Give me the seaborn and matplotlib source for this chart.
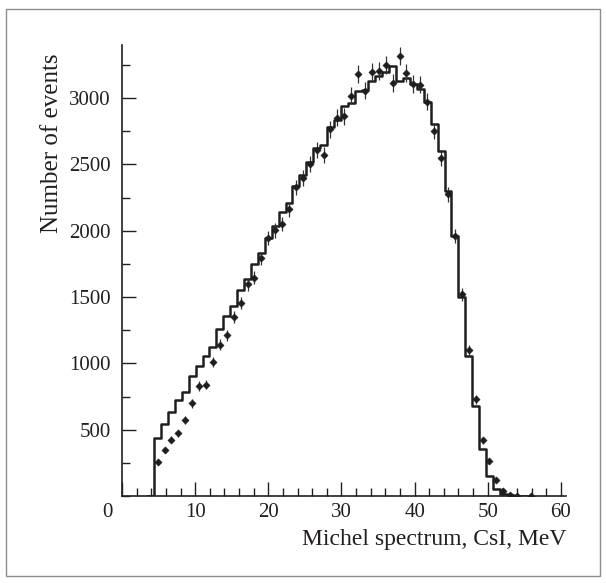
import numpy as np
import pandas as pd
import matplotlib
matplotlib.use("Agg")
import matplotlib.pyplot as plt
import matplotlib.transforms as mtransforms
from matplotlib.patches import Rectangle
from matplotlib.ticker import MultipleLocator
import seaborn as sns

# ---- data ----
bin_start = 4.4      # MeV, left edge of first bin
bin_width = 0.945    # MeV

mc_counts = [439, 545, 633, 723, 784, 904, 980, 1055, 1123, 1261,
             1356, 1432, 1550, 1633, 1746, 1834, 1946, 2035, 2143, 2211,
             2336, 2420, 2515, 2625, 2645, 2781, 2831, 2939, 2964, 3050,
             3060, 3130, 3165, 3197, 3240, 3132, 3150, 3105, 3065, 2972,
             2801, 2600, 2298, 1959, 1500, 1055, 678, 352, 151, 50,
             17, 5, 3]

data_counts = [259, 344, 424, 472, 575, 698, 829, 839, 1010, 1140,
               1211, 1349, 1454, 1595, 1645, 1791, 1942, 2002, 2052, 2160,
               2328, 2399, 2505, 2610, 2570, 2763, 2851, 2864, 3018, 3180,
               3056, 3195, 3203, 3248, 3115, 3316, 3190, 3107, 3102, 2972,
               2751, 2545, 2273, 1959, 1520, 1098, 729, 420, 264, 118,
               38, 8, 3, np.nan, 2]

x_ticks = [0, 10, 20, 30, 40, 50, 60]
y_ticks = [500, 1000, 1500, 2000, 2500, 3000]
x_label = "Michel spectrum, CsI, MeV"
y_label = "Number of events"

# ---- build tables ----
n_mc = len(mc_counts)
# add one empty bin on each side so the outline rises from / falls to zero
edges = bin_start + bin_width * np.arange(-1, n_mc + 2)
centers_mc = 0.5 * (edges[:-1] + edges[1:])
mc_df = pd.DataFrame({"E": centers_mc,
                      "w": [0] + mc_counts + [0]})

n_d = len(data_counts)
data_df = pd.DataFrame({
    "E": bin_start + bin_width * (np.arange(n_d) + 0.5),
    "N": data_counts,
})
data_df["err"] = 1.2 * np.sqrt(data_df["N"])
data_df = data_df.dropna()

# ---- style ----
sns.set_style("ticks")
plt.rcParams["font.family"] = ["Liberation Serif", "DejaVu Serif"]
ink = "#231f20"
plt.rcParams["text.color"] = ink
plt.rcParams["axes.labelcolor"] = ink
plt.rcParams["xtick.color"] = ink
plt.rcParams["ytick.color"] = ink

fig = plt.figure(figsize=(6.06, 5.83), dpi=100)
ax = fig.add_axes([122 / 606, 1 - 496 / 583, 444 / 606, 451 / 583])

sns.histplot(data=mc_df, x="E", weights="w", bins=[float(e) for e in edges],
             element="step", fill=False, color="#1e1e1e", linewidth=1.8, ax=ax)

ax.errorbar(data_df["E"], data_df["N"], yerr=data_df["err"], xerr=0.22,
            fmt="none", ecolor="#333333", elinewidth=0.9, capsize=0, zorder=3)
sns.scatterplot(data=data_df, x="E", y="N", marker="D", s=14,
                color="#1e1e1e", edgecolor="#1e1e1e", linewidth=0.3,
                ax=ax, zorder=4)

ax.set_xlim(0, 60.7)
ax.set_ylim(0, 3400)
ax.set_xticks(x_ticks)
ax.set_xticklabels([str(v) for v in x_ticks])
ax.set_yticks(y_ticks)
ax.set_yticklabels([str(v) for v in y_ticks])
ax.xaxis.set_minor_locator(MultipleLocator(2))
ax.yaxis.set_minor_locator(MultipleLocator(250))
ax.tick_params(axis="both", which="major", direction="in", length=10,
               width=1.0, labelsize=15, pad=5)
ax.tick_params(axis="both", which="minor", direction="in", length=6,
               width=1.0)
ax.tick_params(axis="y", pad=8)

# shift the "0" label to the corner
lbl0 = ax.get_xticklabels()[0]
lbl0.set_transform(lbl0.get_transform() +
                   mtransforms.ScaledTranslation(-15 / 100, 0, fig.dpi_scale_trans))

for s in ["top", "right"]:
    ax.spines[s].set_visible(False)
for s in ["left", "bottom"]:
    ax.spines[s].set_linewidth(1.2)
    ax.spines[s].set_color(ink)

ax.set_xlabel(x_label, fontsize=17, loc="right", labelpad=5)
ax.set_ylabel(y_label, fontsize=18, loc="top")
ax.yaxis.set_label_coords(-0.133, 0.982)

fig.patches.append(Rectangle((6 / 606, 1 - 576 / 583), 594 / 606, 567 / 583,
                             transform=fig.transFigure, fill=False,
                             edgecolor="#8c8c8c", linewidth=1.0))

fig.savefig("out.png", dpi=100)
